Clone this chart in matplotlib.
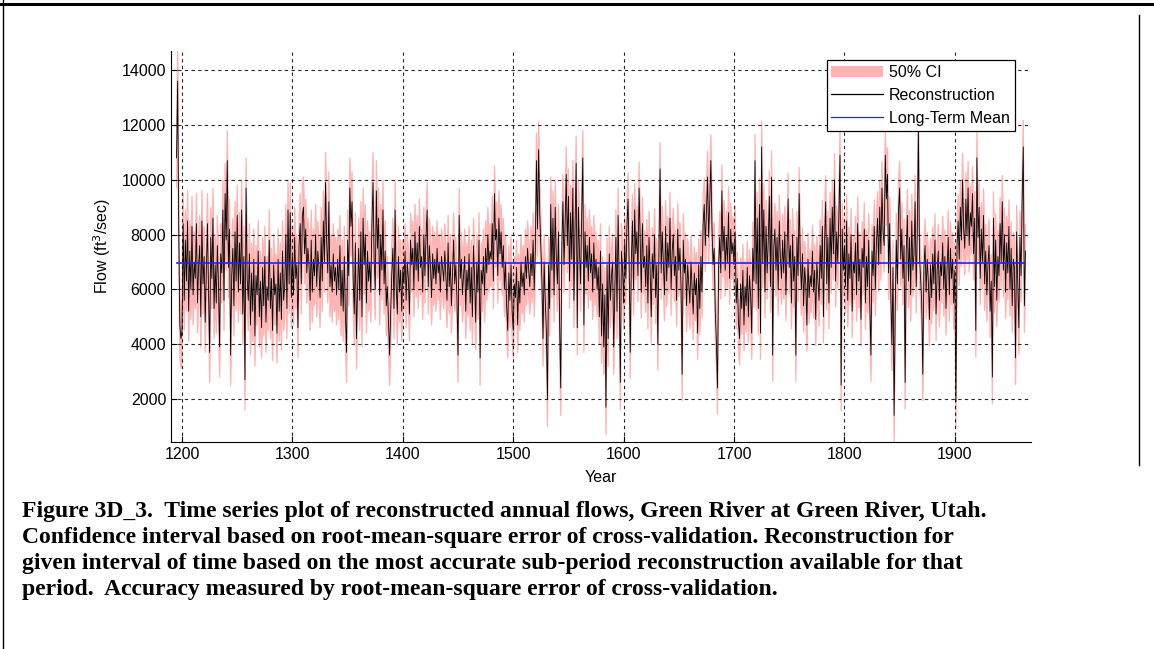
import numpy as np
import matplotlib
matplotlib.use("Agg")
import matplotlib.pyplot as plt
from matplotlib.patches import Patch
from matplotlib.lines import Line2D

# reconstructed annual flow (ft3/sec), years 1195-1964
first_year = 1195
flow = [
    10800, 13600, 8200, 4700, 4200,
    4500, 8400, 5600, 7800, 6300, 8500, 5200, 7400, 6000, 8300,
    5800, 7000, 6400, 8400, 5500, 6900, 7600, 5000, 8500, 6200,
    7200, 4800, 6700, 8400, 5900, 3700, 7900, 6400, 8600, 5300,
    6900, 5500, 7600, 6200, 3900, 7300, 6600, 8900, 5600, 9500,
    7800, 10700, 6800, 8200, 3600, 6500, 7500, 5400, 8100, 6300,
    8700, 5900, 7700, 6200, 8900, 5100, 7200, 2700, 9700, 6400,
    5600, 7300, 4700, 6600, 5200, 7100, 4300, 6500, 5800, 7400,
    5000, 6300, 4600, 6800, 5400, 7200, 4800, 6100, 5600, 7800,
    5300, 6400, 4500, 6900, 5800, 6200, 4400, 7100, 5200, 6600,
    4900, 7400, 5600, 6100, 8000, 5300, 8900, 6200, 8800, 5700,
    7200, 5800, 7900, 6400, 6900, 4600, 7600, 8400, 6200, 8700,
    9000, 7300, 8200, 6600, 7500, 6900, 5600, 7800, 5900, 7100,
    6500, 8000, 6100, 7400, 6800, 5700, 7900, 6300, 8500, 7000,
    9900, 7700, 6600, 9200, 6100, 6900, 5900, 7300, 6300, 6800,
    5800, 7100, 6000, 7600, 5400, 6700, 5200, 7200, 5000, 3700,
    7800, 6500, 9700, 8300, 9200, 6400, 5100, 7700, 4200, 6000,
    7500, 5600, 8100, 5000, 8600, 6900, 8000, 5500, 7400, 6300,
    7000, 5900, 8400, 9900, 7100, 6000, 9600, 7500, 8600, 5800,
    8000, 6700, 8900, 6200, 7400, 5400, 6100, 4800, 3600, 5200,
    6600, 7500, 5300, 8900, 6100, 5100, 7200, 5900, 6700, 5200,
    6800, 6200, 7400, 5600, 7000, 6400, 5100, 7800, 6900, 7500,
    6000, 8100, 6700, 7700, 6300, 8300, 6800, 7200, 5900, 8000,
    6500, 7900, 8900, 6100, 7600, 6900, 5700, 7300, 6400, 7100,
    6200, 7500, 6600, 7000, 5900, 7200, 6800, 6300, 7400, 6500,
    5600, 7700, 6100, 7000, 5400, 6600, 7800, 6200, 6900, 5700,
    3600, 8700, 6400, 7100, 5800, 6500, 7200, 5200, 6700, 6000,
    7300, 5500, 6800, 5000, 7600, 6400, 4800, 7000, 5900, 7800,
    3500, 6700, 6200, 7200, 5800, 7500, 6600, 8000, 6900, 7400,
    7100, 8400, 6300, 9500, 7800, 8200, 6500, 8600, 7300, 8100,
    6800, 7600, 6000, 7000, 5400, 4500, 6600, 5600, 6900, 5200,
    4500, 6200, 5700, 6800, 4700, 6300, 5500, 7000, 6100, 6600,
    5800, 7200, 6400, 7500, 6700, 6100, 7300, 6500, 7800, 6000,
    7400, 10700, 8200, 11100, 8800, 7600, 6300, 4200, 7000, 5600,
    4500, 2000, 6900, 5300, 9100, 6700, 8600, 5800, 9000, 7200,
    6200, 8100, 4800, 2400, 7500, 9200, 6900, 8400, 10200, 7600,
    9400, 6300, 8800, 7100, 9700, 5600, 8300, 10600, 4600, 9000,
    7400, 6200, 8700, 10800, 4700, 8100, 6800, 7600, 6300, 7900,
    6600, 7300, 5900, 7700, 6400, 7100, 6000, 6800, 5000, 7400,
    4300, 6200, 3900, 5800, 1700, 6900, 4200, 7300, 5600, 6500,
    7000, 3900, 5900, 7900, 5200, 8700, 6200, 2600, 7400, 6800,
    5500, 7700, 6400, 8300, 9300, 6900, 3700, 7100, 8500, 6000,
    8900, 7300, 8100, 6500, 9700, 7800, 5900, 8400, 6800, 7200,
    6100, 7600, 5500, 7900, 6700, 5000, 7300, 6400, 8000, 5700,
    6900, 4000, 7500, 10400, 6600, 8100, 7000, 5800, 8300, 6300,
    7700, 6800, 8600, 6000, 7400, 8000, 6500, 7200, 5600, 8200,
    6700, 7500, 6100, 2900, 7800, 6600, 7100, 5400, 6900, 6200,
    5500, 7000, 6000, 5100, 6600, 5800, 6400, 4400, 6900, 5300,
    7200, 5900, 8400, 9100, 7600, 8800, 10100, 7900, 9200, 10700,
    8300, 6900, 7500, 5200, 4100, 2400, 6800, 7900, 6600, 9600,
    7400, 8300, 6700, 7900, 7000, 8800, 6400, 8200, 7300, 7700,
    6900, 8100, 5500, 6400, 4800, 4200, 6200, 5300, 6700, 4700,
    6100, 5400, 6800, 5000, 6500, 5800, 4400, 7500, 6300, 10700,
    6200, 8600, 5300, 9100, 4400, 11200, 7000, 8900, 5900, 8300,
    6600, 7800, 9400, 6100, 10100, 3600, 7500, 8200, 6700, 7900,
    6000, 8500, 7100, 6400, 7800, 6600, 8100, 5800, 7400, 9300,
    6800, 7600, 5500, 8000, 6300, 7200, 3600, 7900, 6500, 9500,
    7000, 6000, 7300, 5400, 6800, 6200, 4700, 7100, 5700, 6500,
    6100, 7400, 5900, 6700, 4900, 7000, 6300, 5600, 7600, 6400,
    8300, 5000, 7700, 9200, 6200, 7900, 5500, 8600, 6800, 9000,
    7300, 10000, 6300, 8100, 7000, 8800, 10900, 2500, 8200, 6700,
    7600, 6100, 8500, 5600, 7300, 6400, 8000, 5200, 7000, 6600,
    7700, 5800, 8400, 6300, 7100, 4900, 7500, 6800, 8200, 5500,
    7200, 6100, 7800, 5400, 3600, 7400, 6500, 8300, 6000, 7700,
    8600, 6900, 9000, 7300, 9700, 8100, 7600, 10900, 9300, 10200,
    6600, 8400, 5800, 4000, 6800, 1400, 5300, 7800, 6200, 8900,
    9700, 7100, 8200, 6400, 7600, 2600, 7400, 8700, 6300, 7900,
    5800, 8500, 6700, 7300, 9200, 6100, 8100, 11900, 7200, 6400,
    5500, 2900, 6800, 7600, 5900, 7100, 6300, 4900, 6900, 5700,
    7300, 6200, 7800, 5100, 6700, 7400, 5600, 7000, 6500, 7700,
    6000, 7200, 5300, 6800, 7900, 5800, 7500, 6400, 7100, 5500,
    6700, 1900, 7600, 8500, 7100, 9000, 7800, 10000, 8200, 7500,
    9300, 8000, 9700, 7600, 8800, 8300, 9500, 7300, 8600, 4500,
    10800, 7900, 9000, 6400, 8200, 7000, 8700, 6200, 7400, 5800,
    6900, 7600, 5200, 6300, 2800, 8600, 6100, 7800, 5600, 7200,
    6500, 8400, 7000, 9200, 6700, 8000, 5900, 7700, 6600, 8300,
    6000, 7500, 5400, 7100, 6800, 3500, 8100, 6200, 4600, 7900,
    6500, 9300, 11200, 5400, 7400,
]

# half-width of the 50% CI for each sub-period reconstruction
ci_period_start = [1195, 1400, 1600, 1800]
ci_halfwidth = [1100, 1000, 950, 970]

long_term_mean = 6950

caption = [
    "Figure 3D_3.  Time series plot of reconstructed annual flows, Green River at Green River, Utah.",
    "Confidence interval based on root-mean-square error of cross-validation. Reconstruction for",
    "given interval of time based on the most accurate sub-period reconstruction available for that",
    "period.  Accuracy measured by root-mean-square error of cross-validation.",
]

years = np.arange(first_year, first_year + len(flow))
flow = np.array(flow, dtype=float)
hw = np.zeros(len(years))
for start, w in zip(ci_period_start, ci_halfwidth):
    hw[years >= start] = w
upper = flow + hw
lower = flow - hw

pink = '#ffb3b3'
plt.rcParams['font.family'] = ['Liberation Sans', 'DejaVu Sans']

fig = plt.figure(figsize=(11.54, 6.49), dpi=100)
ax = fig.add_axes([171 / 1154, 1 - 442 / 649, 860 / 1154, 391 / 649])

# CI band: fill plus its outline so the thin yearly spikes stay visible
ax.fill_between(years, lower, upper, color=pink, linewidth=0, zorder=1)
ax.plot(years, upper, color=pink, lw=0.9, zorder=1.1)
ax.plot(years, lower, color=pink, lw=0.9, zorder=1.1)
ax.plot(years, flow, color='black', lw=0.6, zorder=2)
ax.plot([years[0], years[-1]], [long_term_mean, long_term_mean], color='#2020ff', lw=1.2, zorder=3)

ax.set_xlim(1190, 1969)
ax.set_ylim(lower.min(), upper.max())
ax.set_xticks(range(1200, 1901, 100))
ax.set_yticks(range(2000, 14001, 2000))
ax.tick_params(direction='in', length=4, labelsize=11.5, width=0.8)
ax.spines['top'].set_visible(False)
ax.spines['right'].set_visible(False)
ax.set_axisbelow(False)
ax.grid(True, color='black', linestyle=(0, (3, 3)), linewidth=0.8, alpha=0.85)

ax.set_xlabel('Year', fontsize=11.5, labelpad=6)
ax.set_ylabel('Flow (ft$^3$/sec)', fontsize=11.5, labelpad=6)

handles = [Patch(facecolor=pink, edgecolor='none'),
           Line2D([], [], color='black', lw=0.9),
           Line2D([], [], color='#2020ff', lw=0.9)]
leg = ax.legend(handles, ['50% CI', 'Reconstruction', 'Long-Term Mean'],
                loc='upper right', bbox_to_anchor=(0.981, 0.977), borderaxespad=0,
                fontsize=11.5, fancybox=False, framealpha=1, edgecolor='black',
                borderpad=0.3, handlelength=3.2, labelspacing=0.5, handletextpad=0.4)
leg.get_frame().set_linewidth(0.9)

for i, line in enumerate(caption):
    fig.text(22 / 1154, 1 - (511 + 26 * i) / 649, line, fontsize=17, weight='bold',
             family='Liberation Serif', va='center', ha='left')

# page frame around the figure
fig.add_artist(Line2D([0, 1], [1 - 4 / 649, 1 - 4 / 649], color='black', lw=2.2))
fig.add_artist(Line2D([3 / 1154, 3 / 1154], [0, 1], color='black', lw=1))
fig.add_artist(Line2D([1139 / 1154, 1139 / 1154], [1 - 15 / 649, 1 - 465 / 649], color='black', lw=1))

fig.savefig('out.png', dpi=100)
